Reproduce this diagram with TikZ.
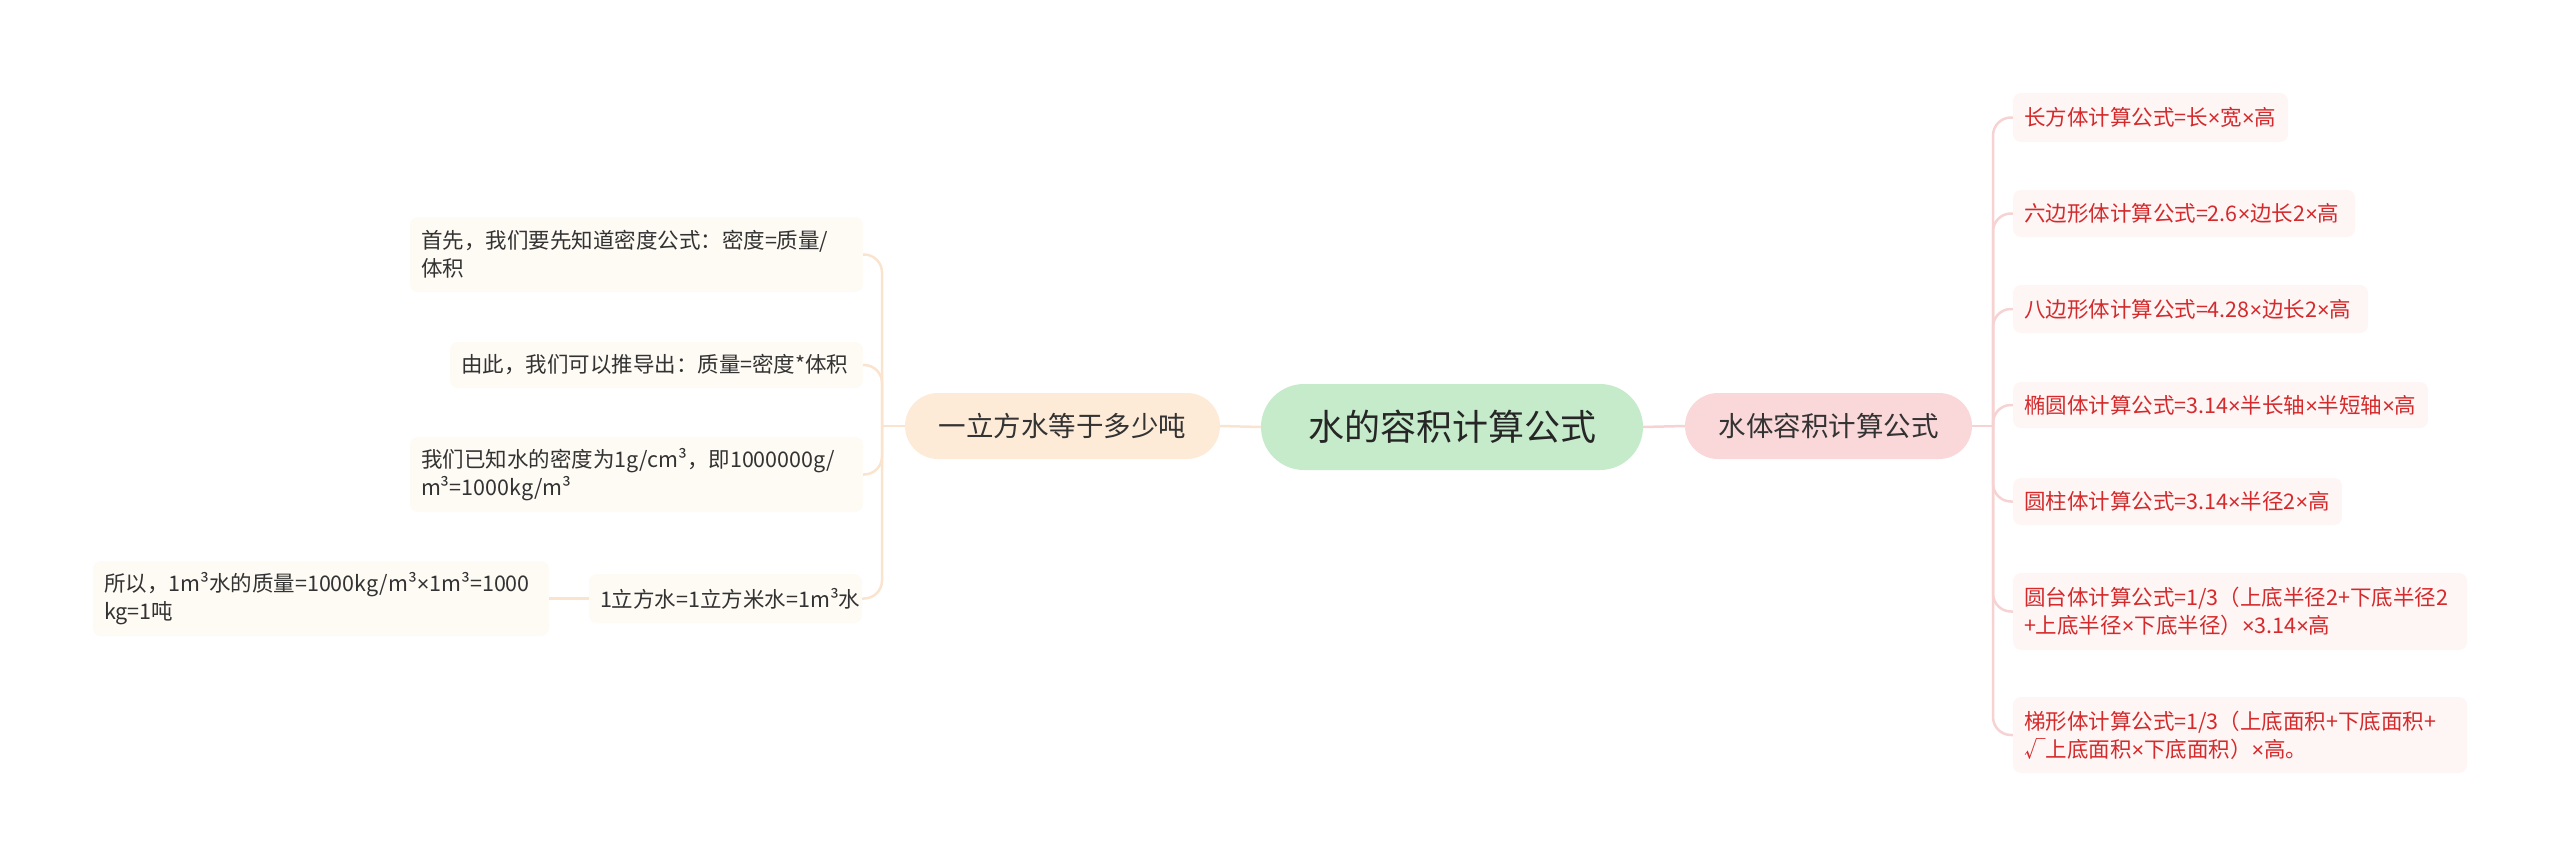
\documentclass[tikz,border=0pt]{standalone}
\usepackage{fontspec}
\setmainfont{Noto Sans CJK SC}
\newfontfamily\narrowfont{Liberation Sans}
\newcommand{\tm}{{\narrowfont ×}}
\definecolor{cgreen}{HTML}{C6EBCB}
\definecolor{rpink}{HTML}{FAD8D9}
\definecolor{rlight}{HTML}{FEF5F5}
\definecolor{rtext}{HTML}{D42A2C}
\definecolor{rline}{HTML}{F6D2D3}
\definecolor{lorange}{HTML}{FDEBD8}
\definecolor{llight}{HTML}{FEFAF4}
\definecolor{lline}{HTML}{FBE4CE}
\definecolor{dtext}{HTML}{333333}
\tikzset{
  mainnode/.style={rounded corners=#1, inner sep=0pt, align=center, text=dtext},
  leaf/.style={rounded corners=8pt, inner xsep=11pt, inner ysep=0pt, align=left,
    font=\fontsize{21.5}{28}\selectfont},
  rleaf/.style={leaf, fill=rlight, text=rtext},
  lleaf/.style={leaf, fill=llight, text=dtext},
  rconn/.style={draw=rline, line width=2.5pt},
  lconn/.style={draw=lline, line width=2.5pt},
}
\begin{document}
\begin{tikzpicture}[x=1pt,y=-1pt]
\useasboundingbox (0,0) rectangle (2560,867);
% main nodes
\node[mainnode=43pt, fill=cgreen, minimum width=382pt, minimum height=86pt,
  font=\fontsize{36}{40}\selectfont, text=black!85] (c) at (1452,427) {水的容积计算公式};
\node[mainnode=33pt, fill=rpink, minimum width=287pt, minimum height=66pt,
  font=\fontsize{27.5}{32}\selectfont] (rm) at (1828.5,426) {水体容积计算公式};
\node[mainnode=33pt, fill=lorange, minimum width=315pt, minimum height=66pt,
  font=\fontsize{27.5}{32}\selectfont] (lm) at (1062.5,426) {一立方水等于多少吨};
% right leaves
\node[rleaf, text width=253pt, minimum height=49pt] (r1) at (2150.5,117.5) {长方体计算公式=长\tm 宽\tm 高};
\node[rleaf, text width=320pt, minimum height=47pt] (r2) at (2184,213.5) {六边形体计算公式=2.6\tm 边长2\tm 高};
\node[rleaf, text width=333pt, minimum height=48pt] (r3) at (2190.5,309) {八边形体计算公式=4.28\tm 边长2\tm 高};
\node[rleaf, text width=393pt, minimum height=46pt] (r4) at (2220.5,405) {椭圆体计算公式=3.14\tm 半长轴\tm 半短轴\tm 高};
\node[rleaf, text width=307pt, minimum height=47pt] (r5) at (2177.5,501.5) {圆柱体计算公式=3.14\tm 半径2\tm 高};
\node[rleaf, text width=432pt, minimum height=77pt] (r6) at (2240,611.5) {圆台体计算公式=1/3（上底半径2+下底半径2\\+上底半径\tm 下底半径）\tm 3.14\tm 高};
\node[rleaf, text width=432pt, minimum height=76pt] (r7) at (2240,735) {梯形体计算公式=1/3（上底面积+下底面积+\\√上底面积\tm 下底面积）\tm 高。};
% left leaves
\node[lleaf, text width=431pt, minimum height=75pt] (l1) at (636.5,254.5) {首先，我们要先知道密度公式：密度=质量/\\体积};
\node[lleaf, text width=391pt, minimum height=46pt] (l2) at (656.5,365) {由此，我们可以推导出：质量=密度*体积};
\node[lleaf, text width=431pt, minimum height=75pt] (l3) at (636.5,474.5) {我们已知水的密度为1g/cm³，即1000000g/\\m³=1000kg/m³};
\node[lleaf, text width=251pt, minimum height=49pt] (l4) at (725.5,598.5) {1立方水=1立方米水=1m³水};
\node[lleaf, text width=434pt, minimum height=75pt] (l5) at (321,598.5) {所以，1m³水的质量=1000kg/m³\tm 1m³=1000\\kg=1吨};
% connectors
\coordinate (rb) at (1993,426);
\coordinate (lb) at (882,426);
\draw[lconn] (c.west) -- (lm.east);
\draw[rconn] (c.east) -- (rm.west);
\draw[rconn] (rm.east) -- (rb);
\draw[lconn] (lm.west) -- (lb);
\foreach \n in {r1,r2,r3,r4,r5,r6,r7}
  \draw[rconn, rounded corners=18pt] (rb) |- (\n.west);
\foreach \n in {l1,l2,l3,l4}
  \draw[lconn, rounded corners=18pt] (lb) |- (\n.east);
\draw[lconn] (l4.west) -- (l5.east);
\end{tikzpicture}
\end{document}
